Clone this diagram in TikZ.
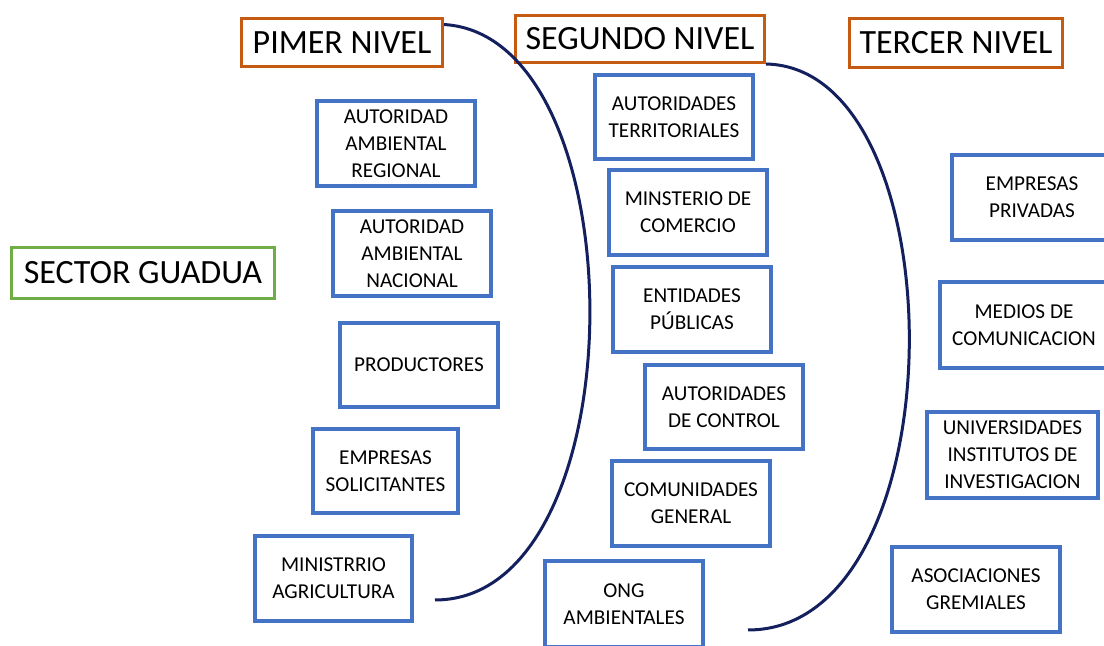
\documentclass[tikz,border=0pt]{standalone}
\usepackage{fontspec}
\setmainfont{Carlito}
\definecolor{orangeb}{HTML}{C55A11}
\definecolor{blueb}{HTML}{4472C4}
\definecolor{greenb}{HTML}{70AD47}
\definecolor{navy}{HTML}{14205E}
\begin{document}
\begin{tikzpicture}[x=0.5pt,y=-0.5pt,
  hdr/.style={draw=orangeb,line width=1.5pt,fill=white,font=\fontsize{17}{20}\selectfont,inner sep=0pt},
  sect/.style={draw=greenb,line width=1.5pt,fill=white,font=\fontsize{17}{20}\selectfont,inner sep=0pt},
  bx/.style={draw=blueb,line width=2pt,fill=white,align=center,font=\fontsize{10.6}{13.5}\selectfont,inner sep=0pt,minimum width=79pt,minimum height=42.5pt},
  curve/.style={draw=navy,line width=1.5pt}]
\useasboundingbox (0,0) rectangle (1104,646);
% headers
\node[hdr,minimum width=100.5pt,minimum height=24pt] (p1) at (342,42.5) {PIMER NIVEL};
\node[hdr,minimum width=124.5pt,minimum height=23.5pt] (s2) at (640,39) {SEGUNDO NIVEL};
\node[hdr,minimum width=106.5pt,minimum height=24.5pt] (t3) at (956,43) {TERCER NIVEL};
\node[sect,minimum width=131.5pt,minimum height=25.5pt] (sg) at (143,273) {SECTOR GUADUA};
% column 1
\node[bx] (a1) at (396,143.5) {AUTORIDAD\\AMBIENTAL\\REGIONAL};
\node[bx] (a2) at (412,253.5) {AUTORIDAD\\AMBIENTAL\\NACIONAL};
\node[bx,minimum height=42pt] (a3) at (419,365) {PRODUCTORES};
\node[bx,minimum width=72.5pt,minimum height=42pt] (a4) at (385.5,471) {EMPRESAS\\SOLICITANTES};
\node[bx,minimum width=78.5pt] (a5) at (333.5,578.5) {MINISTRRIO\\AGRICULTURA};
% column 2
\node[bx,minimum height=42pt] (b1) at (674,117) {AUTORIDADES\\TERRITORIALES};
\node[bx] (b2) at (688,212.5) {MINSTERIO DE\\COMERCIO};
\node[bx] (b3) at (692,309.5) {ENTIDADES\\PÚBLICAS};
\node[bx,minimum height=42pt] (b4) at (724,407) {AUTORIDADES\\DE CONTROL};
\node[bx] (b5) at (691,503.5) {COMUNIDADES\\GENERAL};
\node[bx,minimum height=43pt] (b6) at (624,604) {ONG\\AMBIENTALES};
% column 3
\node[bx,minimum width=80pt,minimum height=42.5pt] (c1) at (1032,197.5) {EMPRESAS\\PRIVADAS};
\node[bx,minimum width=84pt,minimum height=43pt] (c2) at (1024,325) {MEDIOS DE\\COMUNICACION};
\node[bx,minimum width=85.5pt,minimum height=43pt] (c3) at (1012.5,455) {UNIVERSIDADES\\INSTITUTOS DE\\INVESTIGACION};
\node[bx,minimum width=84pt,minimum height=42.5pt] (c4) at (976,589.5) {ASOCIACIONES\\GREMIALES};
% curves
\coordinate (e1) at (435,600);
\coordinate (e2) at (748,630);
\draw[curve] (p1.10) .. controls (640,36) and (640,600) .. (e1);
\draw[curve] (s2.south east) .. controls (960,68) and (960,630) .. (e2);
\end{tikzpicture}
\end{document}
